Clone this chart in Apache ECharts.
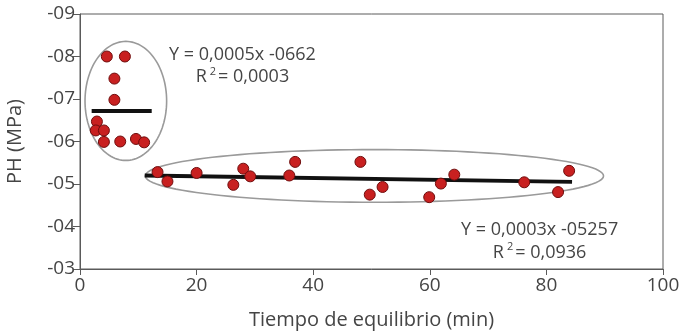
<!DOCTYPE html>
<html><head><meta charset="utf-8">
<script src="https://cdn.jsdelivr.net/npm/echarts@6/dist/echarts.min.js"></script>
<style>html,body{margin:0;padding:0;background:#fff}#c{width:683px;height:336px}</style>
</head><body><div id="c"></div>
<script>
// Values: y in tenths of -MPa (8.0 => "-08")
var leftX  = [4.6, 7.7, 5.9, 5.9, 2.9, 2.7, 4.1, 4.1, 6.9, 9.6, 11.0];
var leftY  = [8.0, 8.0, 7.48, 6.98, 6.47, 6.26, 6.26, 5.99, 6.0, 6.06, 5.98];
var rightX = [13.3, 15.0, 20.0, 26.3, 28.0, 29.2, 35.9, 36.9, 48.1, 49.7, 51.9, 59.9, 61.9, 64.2, 76.2, 82.0, 83.9];
var rightY = [5.28, 5.06, 5.26, 4.98, 5.36, 5.18, 5.20, 5.52, 5.52, 4.75, 4.93, 4.69, 5.01, 5.22, 5.04, 4.81, 5.31];
var leftFitX = [2.0, 12.3], leftFitY = [6.72, 6.72];
var rightFitX = [11.1, 84.4], rightFitY = [5.20, 5.05];
// ellipses: [centerX, centerY, radiusX, radiusY]
var ellipses = [[7.86, 6.955, 7.0, 1.4], [50.5, 5.19, 39.3, 0.62]];
var xTicks = [0, 20, 40, 60, 80, 100];
var yTicks = ['-03','-04','-05','-06','-07','-08','-09'];
var eqLeft = ['Y = 0,0005x -0662', '0,0003'];
var eqRight = ['Y = 0,0003x -05257', '0,0936'];

function zip(a, b){ return a.map(function(v,i){ return [v, b[i]]; }); }
var FONT = 'Open Sans';
var TXT = '#454545';
var AX = '#5a5a5a';
var chart = echarts.init(document.getElementById('c'));
function eq(lines, left, top, lh){
  return {type:'text', left: left, top: top, style:{
    text: lines[0] + '\n{r|R}{s|2}{r|= ' + lines[1] + '}',
    font: '18px "' + FONT + '"', fill: TXT, textAlign:'center', lineHeight: lh,
    rich: { r:{fontSize:18, fontFamily:FONT, color:TXT, lineHeight:lh},
            s:{fontSize:11, fontFamily:FONT, color:TXT, verticalAlign:'top', padding:[0,2,9,3], lineHeight:lh} }
  }};
}
chart.setOption({
  animation:false,
  grid:{left:80, right:20, top:14, bottom:67, show:true, borderColor:AX, borderWidth:1,
        containLabel:false, outerBoundsMode:'none'},
  xAxis:{type:'value', min:0, max:100, interval:20,
    name:'Tiempo de equilibrio (min)', nameLocation:'middle', nameGap:41,
    nameTextStyle:{fontFamily:FONT, fontSize:20, color:TXT},
    axisLine:{lineStyle:{color:AX}}, axisTick:{length:6, lineStyle:{color:AX}},
    splitLine:{show:false},
    axisLabel:{fontFamily:FONT, fontSize:19, color:TXT, margin:7,
      formatter:function(v){ return xTicks.indexOf(v) >= 0 ? String(v) : ''; }}},
  yAxis:{type:'value', min:3, max:9, interval:1,
    name:'PH (MPa)', nameLocation:'middle', nameGap:55,
    nameTextStyle:{fontFamily:FONT, fontSize:20, color:TXT},
    axisLine:{show:true, lineStyle:{color:AX}}, axisTick:{show:true, length:7, lineStyle:{color:AX}},
    splitLine:{show:false},
    axisLabel:{fontFamily:FONT, fontSize:19, color:TXT, margin:5,
      formatter:function(v){ return yTicks[v-3]; }}},
  series:[
    {type:'custom', coordinateSystem:'cartesian2d', data: ellipses, z:1, silent:true,
     renderItem:function(params, api){
       var c = api.coord([api.value(0), api.value(1)]);
       var s = api.size([api.value(2), api.value(3)]);
       var pts = [];
       for (var i=0;i<120;i++){ var t=i/120*Math.PI*2; pts.push([c[0]+s[0]*Math.cos(t), c[1]+s[1]*Math.sin(t)]); }
       return {type:'polygon', shape:{points:pts}, style:{fill:'none', stroke:'#9a9a9a', lineWidth:1.6}};
     }},
    {type:'line', data: zip(leftFitX, leftFitY), symbol:'none', lineStyle:{color:'#111', width:4}, z:3},
    {type:'line', data: zip(rightFitX, rightFitY), symbol:'none', lineStyle:{color:'#111', width:4}, z:3},
    {type:'scatter', data: zip(leftX, leftY), symbolSize:11, z:4,
     itemStyle:{color:'#c82020', borderColor:'#6e0c0c', borderWidth:1, opacity:1}},
    {type:'scatter', data: zip(rightX, rightY), symbolSize:11, z:4,
     itemStyle:{color:'#c82020', borderColor:'#6e0c0c', borderWidth:1, opacity:1}}
  ],
  graphic:[ eq(eqLeft, 169, 44, 22), eq(eqRight, 461, 218, 23) ]
});
</script></body></html>
